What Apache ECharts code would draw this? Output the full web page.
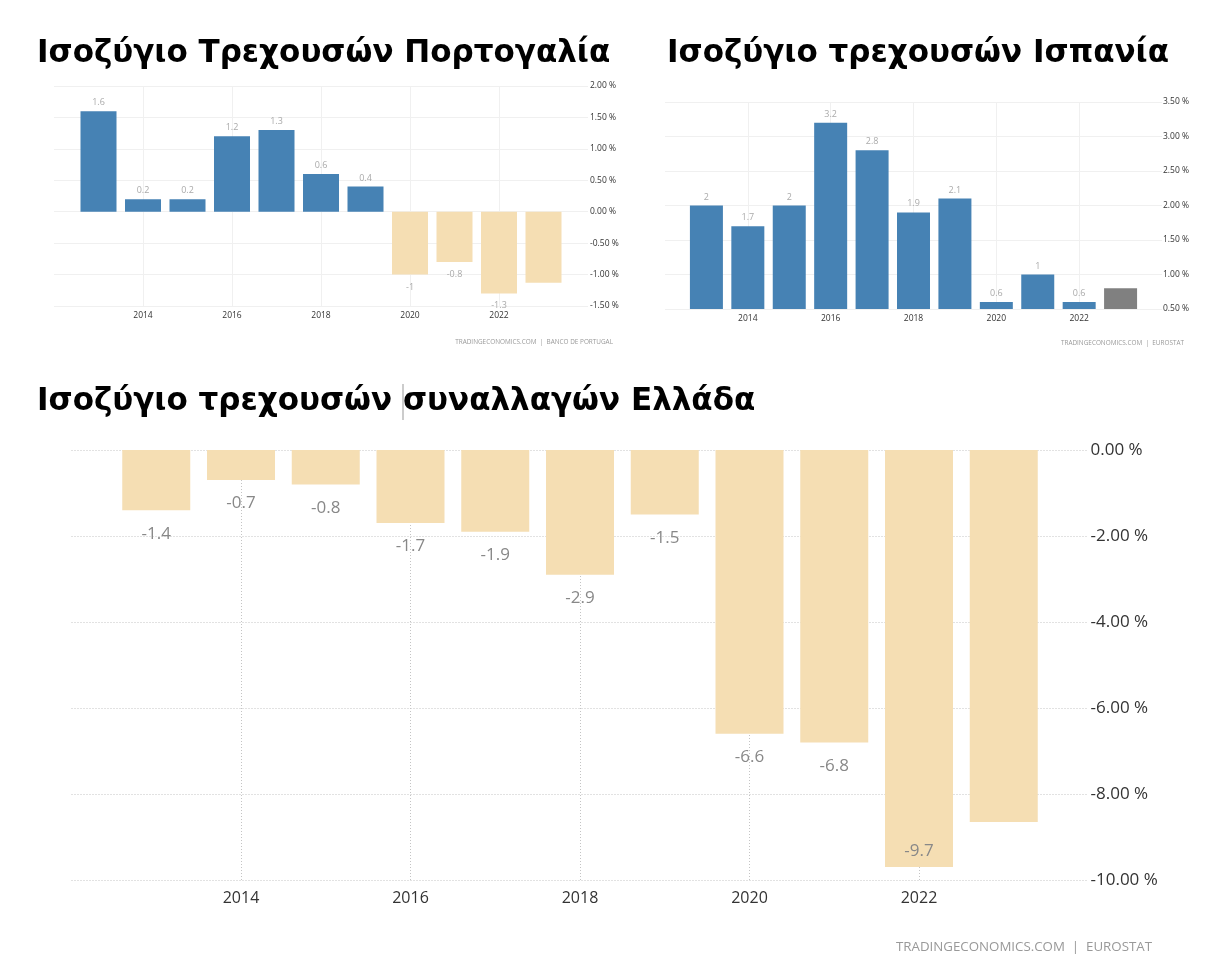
<!DOCTYPE html>
<html>
<head>
<meta charset="utf-8">
<script src="https://cdn.jsdelivr.net/npm/echarts@6/dist/echarts.min.js"></script>
<style>
  html, body { margin: 0; padding: 0; background: #fff; }
  #chart { width: 1213px; height: 975px; }
</style>
</head>
<body>
<div id="chart"></div>
<script>
const years = [2013, 2014, 2015, 2016, 2017, 2018, 2019, 2020, 2021, 2022, 2023];

// Τιμές ανά χώρα
const portugalValues = [1.6, 0.2, 0.2, 1.2, 1.3, 0.6, 0.4, -1, -0.8, -1.3, -1.13];
const spainValues = [2, 1.7, 2, 3.2, 2.8, 1.9, 2.1, 0.6, 1, 0.6, 0.8];
const greeceValues = [-1.4, -0.7, -0.8, -1.7, -1.9, -2.9, -1.5, -6.6, -6.8, -9.7, -8.65];

const titles = ['Ισοζύγιο Τρεχουσών Πορτογαλία', 'Ισοζύγιο τρεχουσών Ισπανία', 'Ισοζύγιο τρεχουσών συναλλαγών Ελλάδα'];
const sources = ['TRADINGECONOMICS.COM  |  BANCO DE PORTUGAL', 'TRADINGECONOMICS.COM  |  EUROSTAT', 'TRADINGECONOMICS.COM  |  EUROSTAT'];

const BLUE = '#4682b4', TAN = '#f5deb3', GREY = '#808080';
const LAST = 2023; // η τελευταία μπάρα δεν έχει ετικέτα

// μια μπάρα για κάθε έτος
function barData(values, opts) {
  return values.map((v, i) => {
    const item = {
      value: [years[i], v],
      itemStyle: { color: v < 0 ? TAN : BLUE }
    };
    if (years[i] === LAST) {
      item.label = { show: false };
      if (opts.lastColor) item.itemStyle = { color: opts.lastColor };
    } else if (opts.inside && opts.inside === v) {
      item.label = { position: 'insideBottom', distance: 7 };
    } else if (v < 0) {
      item.label = { position: 'bottom', distance: opts.labelGap };
    }
    return item;
  });
}

function xAxis(idx, font, margin, lineStyle) {
  return {
    type: 'value', gridIndex: idx, min: 2012, max: 2024, interval: 2,
    position: 'bottom',
    axisLine: { show: false, onZero: false },
    axisTick: { show: false },
    axisLabel: {
      showMinLabel: false, showMaxLabel: false,
      fontFamily: 'Open Sans', fontSize: font, color: '#333', margin: margin,
      formatter: v => String(v)
    },
    splitLine: { show: true, showMinLine: false, showMaxLine: false, lineStyle: lineStyle }
  };
}

function yAxis(idx, min, max, step, font, margin, lineStyle) {
  return {
    type: 'value', gridIndex: idx, position: 'right', min: min, max: max, interval: step,
    axisLine: { show: false },
    axisTick: { show: false },
    axisLabel: {
      fontFamily: 'Open Sans', fontSize: font, color: '#333', margin: margin,
      formatter: v => v.toFixed(2) + ' %'
    },
    splitLine: { show: true, lineStyle: lineStyle }
  };
}

function barSeries(idx, data, width, font, labelColor) {
  return {
    type: 'bar', xAxisIndex: idx, yAxisIndex: idx, barWidth: width, data: data, z: 3,
    label: {
      show: true, position: 'top', distance: 4,
      fontFamily: 'Open Sans', fontSize: font, color: labelColor,
      formatter: p => String(p.value[1])
    }
  };
}

const smallLine = { color: '#f0f0f0', width: 1, type: 'solid' };
const bigLine = { color: '#c4c4c4', width: 1, type: [1, 2] };

const titleStyle = { fontFamily: 'DejaVu Sans', fontWeight: 'bold', fontSize: 31, color: '#000' };
const sourceStyle = { fontFamily: 'Open Sans', fontWeight: 'normal', color: '#999' };

const chart = echarts.init(document.getElementById('chart'));
chart.setOption({
  animation: false,
  backgroundColor: '#fff',
  title: [
    { text: titles[0], left: 37, top: 38, padding: 0, textStyle: titleStyle },
    { text: titles[1], left: 667, top: 38, padding: 0, textStyle: titleStyle },
    { text: titles[2], left: 37, top: 386, padding: 0, textStyle: titleStyle },
    { text: sources[0], right: 600, top: 339, padding: 0, textStyle: { ...sourceStyle, fontSize: 6.4 } },
    { text: sources[1], right: 29, top: 340, padding: 0, textStyle: { ...sourceStyle, fontSize: 6.4 } },
    { text: sources[2], right: 61, top: 941, padding: 0, textStyle: { ...sourceStyle, fontSize: 13.3 } }
  ],
  grid: [
    { left: 54, top: 86, width: 534, height: 220 },
    { left: 665, top: 102, width: 497, height: 207 },
    { left: 71.5, top: 450, width: 1017, height: 430 }
  ],
  xAxis: [
    xAxis(0, 8.5, 5, smallLine),
    xAxis(1, 8.5, 5, smallLine),
    xAxis(2, 16, 10, bigLine)
  ],
  yAxis: [
    yAxis(0, -1.5, 2, 0.5, 8.5, 2, smallLine),
    yAxis(1, 0.5, 3.5, 0.5, 8.5, 1, smallLine),
    yAxis(2, -10, 0, 2, 17, 2, bigLine)
  ],
  series: [
    barSeries(0, barData(portugalValues, { labelGap: 8 }), 36, 9, '#aaa'),
    barSeries(1, barData(spainValues, { lastColor: GREY }), 33, 9, '#aaa'),
    barSeries(2, barData(greeceValues, { inside: -9.7, labelGap: 15 }), 68, 17, '#888')
  ],
  graphic: [
    { type: 'line', shape: { x1: 403, y1: 384, x2: 403, y2: 420 }, style: { stroke: '#999', lineWidth: 1 } }
  ]
});
</script>
</body>
</html>
